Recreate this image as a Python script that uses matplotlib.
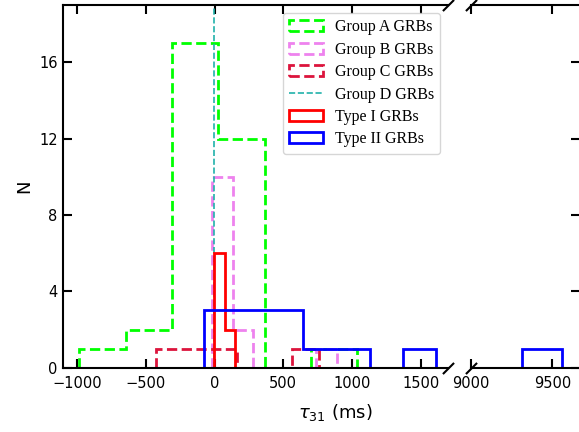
import numpy as np
import matplotlib.pyplot as plt

# histogram bins: first edge, bin width, counts
a_start, a_width = -983, 337
a_counts = [1, 2, 17, 12, 0, 1]
b_start, b_width = -21, 152
b_counts = [10, 2, 0, 0, 0, 1]
c_start, c_width = -425, 197
c_counts = [1, 1, 1, 0, 0, 1]
d_value = -3
i_start, i_width = -2, 75
i_counts = [6, 2]
ii_start, ii_width = -76, 240.85
ii_counts = [3, 3, 3, 1, 1, 0, 1] + [0]*32 + [1]

left_ticks = [-1000, -500, 0, 500, 1000, 1500]
right_ticks = [9000, 9500]
y_ticks = [0, 4, 8, 12, 16]


def step_hist(ax, start, width, counts, **kw):
    bins = start + width*np.arange(len(counts)+1)
    centers = 0.5*(bins[1:] + bins[:-1])
    ax.hist(centers, bins=bins, weights=counts, histtype='step', lw=2, **kw)


fig = plt.figure(figsize=(5.79, 4.32), dpi=100)
ax1 = fig.add_axes([0.1093, 0.1488, 0.6649, 0.8396])
ax2 = fig.add_axes([0.8130, 0.1488, 0.1888, 0.8396], sharey=ax1)

for ax in (ax1, ax2):
    step_hist(ax, a_start, a_width, a_counts, color='lime', ls='--',
              label='Group A GRBs')
    step_hist(ax, b_start, b_width, b_counts, color='violet', ls='--',
              label='Group B GRBs')
    step_hist(ax, c_start, c_width, c_counts, color='crimson', ls='--',
              label='Group C GRBs')
    ax.axvline(d_value, color='lightseagreen', ls='--', lw=1.2,
               label='Group D GRBs')
    step_hist(ax, i_start, i_width, i_counts, color='red',
              label='Type I GRBs')
    step_hist(ax, ii_start, ii_width, ii_counts, color='blue',
              label='Type II GRBs')

ax1.set_xlim(-1100, 1700)
ax2.set_xlim(9000, 9670)
ax1.set_ylim(0, 19)
ax1.set_yticks(y_ticks)
ax1.set_xticks(left_ticks)
ax2.set_xticks(right_ticks)
ax1.set_xticklabels([str(t).replace('-', '\u2212') for t in left_ticks])

ax1.spines['right'].set_visible(False)
ax2.spines['left'].set_visible(False)
for ax in (ax1, ax2):
    for sp in ax.spines.values():
        sp.set_linewidth(1.5)
    ax.tick_params(direction='in', length=6.5, width=1.5, labelsize=10.5,
                   top=True)
    ax.tick_params(axis='x', pad=6)
ax1.tick_params(axis='y', right=False, pad=4)
ax2.tick_params(axis='y', left=False, right=True, labelleft=False,
                labelright=False)

# break marks
kw = dict(marker=[(-1, -1), (1, 1)], markersize=8, linestyle='none',
          color='k', mec='k', mew=1.5, clip_on=False)
ax1.plot([1, 1], [0, 1], transform=ax1.transAxes, **kw)
ax2.plot([0, 0], [0, 1], transform=ax2.transAxes, **kw)

ax1.legend(loc='upper right', prop={'family': 'Liberation Serif', 'size': 11.5},
           labelspacing=0.4, handlelength=2.1, handletextpad=0.75)
ax1.set_ylabel('N', fontsize=13)
fig.text(0.579, 0.045, r'$\tau_{31}$ (ms)', ha='center', va='center',
         fontsize=13)

fig.savefig('out.png', dpi=100)
